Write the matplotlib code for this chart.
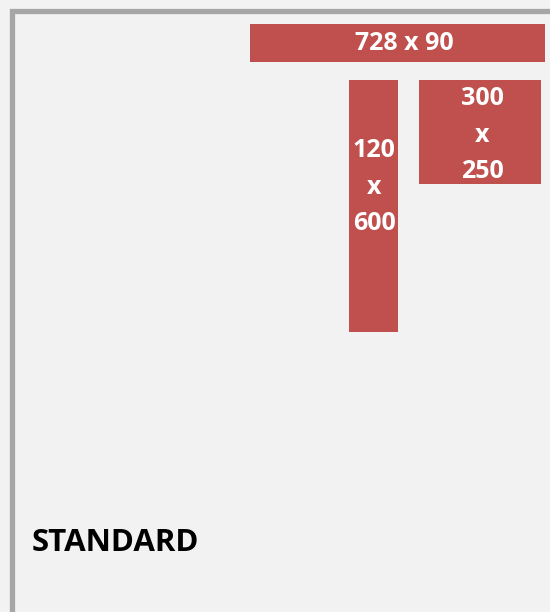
import matplotlib.pyplot as plt

# ad sizes shown in the sketch
labels = ["728 x 90", "120\nx\n600", "300\nx\n250"]
box_left = [250, 349, 419]
box_width = [295, 49, 122]
box_top = [24, 80, 80]
box_height = [38, 252, 104]
label_x = [404, 374, 482]
label_y = [43, 187, 135]

fig = plt.figure(figsize=(5.5, 6.12), dpi=100, facecolor="#f2f2f2")
ax = fig.add_axes([0, 0, 1, 1])
ax.set_facecolor("#f2f2f2")
ax.set_xlim(0, 550)
ax.set_ylim(612, 0)
ax.axis("off")

# frame on the left and top
ax.plot([11.5, 11.5, 560], [620, 10.5, 10.5], color="#a6a6a6", lw=3.8,
        solid_joinstyle="miter")

ax.bar(box_left, box_height, width=box_width, bottom=box_top, align="edge",
       color="#c0504d", linewidth=0)

for lab, x, y in zip(labels, label_x, label_y):
    ax.text(x, y, lab, color="white", fontsize=18, fontweight="bold",
            family="Open Sans", ha="center", va="center", linespacing=1.6,
            multialignment="center")

ax.text(32, 551, "STANDARD", color="black", fontsize=22.5, fontweight="bold",
        family="Open Sans", ha="left", va="baseline")

fig.savefig("out.png", dpi=100, facecolor=fig.get_facecolor())
